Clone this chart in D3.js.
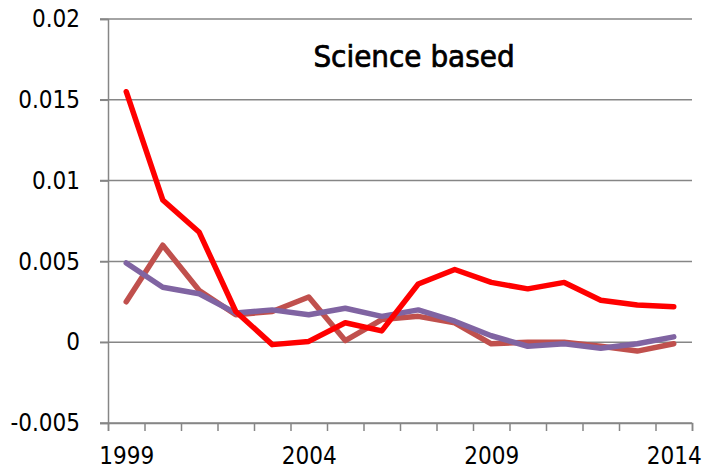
<!DOCTYPE html>
<html>
<head>
<meta charset="utf-8">
<script src="https://cdn.jsdelivr.net/npm/d3@7"></script>
<style>
  html, body { margin: 0; padding: 0; background: #fff; }
  svg text { font-family: "DejaVu Sans Condensed", "Liberation Sans", sans-serif; fill: #000; }
</style>
</head>
<body>
<div id="chart"></div>
<script>
// data
const years = d3.range(1999, 2015)
const labelYears = [1999, 2004, 2009, 2014]
const yTicks = [-0.005, 0, 0.005, 0.01, 0.015, 0.02]
const title = "Science based"

const seriesBrown = [0.0025, 0.0060, 0.0032, 0.0017, 0.0019, 0.0028, 0.0001, 0.0014, 0.0016, 0.0012,
  -0.0001, 0.0000, 0.0000, -0.00025, -0.00055, -0.0001]
const seriesPurple = [0.0049, 0.0034, 0.0030, 0.0018, 0.0020, 0.0017, 0.0021, 0.0016, 0.0020, 0.0013,
  0.0004, -0.00025, -0.0001, -0.00037, -0.0001, 0.00033]
const seriesRed = [0.0155, 0.0088, 0.0068, 0.0019, -0.00015, 0.00005, 0.0012, 0.0007, 0.0036, 0.0045,
  0.0037, 0.0033, 0.0037, 0.0026, 0.0023, 0.0022]

const series = [
    { name: 'brown', values: seriesBrown, color: '#C0504D' },
    { name: 'purple', values: seriesPurple, color: '#8064A2' },
    { name: 'red', values: seriesRed, color: '#FF0000' }
]

const width = 702, height = 474
const plotLeft = 108, plotRight = 692, plotTop = 19, plotBottom = 423
const gridColor = '#868686'

const svg = d3.select('#chart').append('svg')
    .attr('width', width)
    .attr('height', height)

// x: one slot per year, points in the middle of the slot
const x = d3.scaleLinear()
    .domain([years[0] - 0.5, years[years.length - 1] + 0.5])
    .range([plotLeft, plotRight])

const y = d3.scaleLinear()
    .domain([-0.005, 0.02])
    .range([plotBottom, plotTop])

// horizontal grid
svg.append('g')
    .selectAll('line')
    .data(yTicks)
    .join('line')
    .attr('x1', plotLeft - 8)
    .attr('x2', plotRight)
    .attr('y1', d => y(d))
    .attr('y2', d => y(d))
    .attr('stroke', gridColor)
    .attr('stroke-width', 1.5)

// y axis
const yAxis = svg.append('g')
    .attr('transform', `translate(${plotLeft},0)`)
    .call(d3.axisLeft(y).tickValues(yTicks).tickSize(8).tickPadding(20)
        .tickFormat(d => String(+d.toFixed(3))))
yAxis.select('.domain').attr('stroke', gridColor).attr('stroke-width', 1.5)
yAxis.selectAll('.tick line').attr('stroke', gridColor).attr('stroke-width', 1.5)
yAxis.selectAll('.tick text').style('font-size', '24px')

// x axis: tick marks between the years
const xTickPos = d3.range(years.length + 1).map(i => years[0] - 0.5 + i)
const xAxis = svg.append('g')
    .attr('transform', `translate(0,${plotBottom})`)
    .call(d3.axisBottom(x).tickValues(xTickPos).tickSize(8).tickFormat(''))
xAxis.select('.domain').attr('stroke', gridColor).attr('stroke-width', 1.5)
xAxis.selectAll('.tick line').attr('stroke', gridColor).attr('stroke-width', 1.5)

// x labels only on every fifth year
const xLabels = svg.append('g')
    .attr('transform', `translate(0,${plotBottom})`)
    .call(d3.axisBottom(x).tickValues(labelYears).tickSize(0).tickPadding(24).tickFormat(d3.format('d')))
xLabels.select('.domain').remove()
xLabels.selectAll('.tick text').style('font-size', '24px')

// lines
const line = d3.line()
    .x((d, i) => x(years[i]))
    .y(d => y(d))

series.forEach(s => {
    svg.append('path')
        .datum(s.values)
        .attr('fill', 'none')
        .attr('stroke', s.color)
        .attr('stroke-width', 5.5)
        .attr('stroke-linejoin', 'round')
        .attr('stroke-linecap', 'round')
        .attr('d', line)
})

// title inside the plot
svg.append('text')
    .attr('x', 414)
    .attr('y', 67)
    .attr('text-anchor', 'middle')
    .style('font-size', '31px')
    .style('stroke', '#000')
    .style('stroke-width', '0.7px')
    .text(title)
</script>
</body>
</html>
